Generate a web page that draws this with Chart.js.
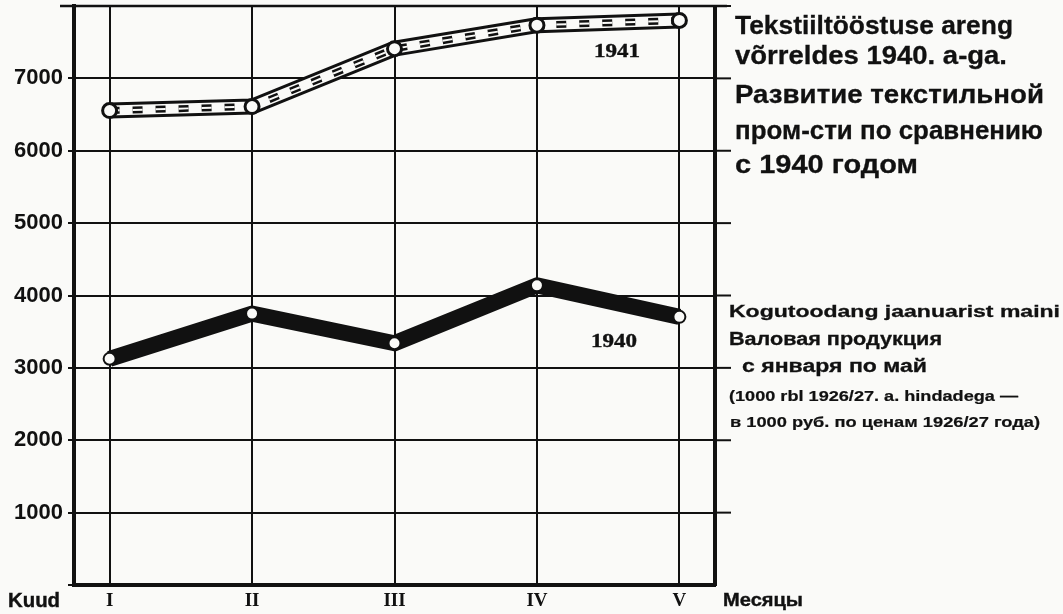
<!DOCTYPE html>
<html>
<head>
<meta charset="utf-8">
<script src="https://cdn.jsdelivr.net/npm/chart.js@4.4.1/dist/chart.umd.min.js"></script>
<style>
  html, body { margin: 0; padding: 0; background: #fafaf8; }
  canvas { display: block; }
</style>
</head>
<body>
<canvas id="c" width="1063" height="614"></canvas>
<script>
// ---- data ----
const months = ['I', 'II', 'III', 'IV', 'V'];
const values1941 = [6555, 6610, 7410, 7735, 7800];
const values1940 = [3125, 3750, 3340, 4140, 3705];
const yTickValues = [1000, 2000, 3000, 4000, 5000, 6000, 7000];
const yTickLabels = ['1000', '2000', '3000', '4000', '5000', '6000', '7000'];
const seriesLabels = ['1941', '1940'];

const pts = vals => vals.map((v, i) => ({ x: i + 1, y: v }));

const NARROW = '"Liberation Sans Narrow", "Arial Narrow", "Liberation Sans", sans-serif';
const SERIF = '"Liberation Serif", "DejaVu Serif", serif';
const BG = '#fafaf8';

// draws a text line fitted to a target width
function fitText(ctx, text, x, baseline, size, family, targetW, stroke) {
  ctx.save();
  ctx.font = 'bold ' + size + 'px ' + family;
  ctx.textBaseline = 'alphabetic';
  ctx.textAlign = 'left';
  const w = ctx.measureText(text).width;
  ctx.translate(x, baseline);
  ctx.scale(targetW / w, 1);
  ctx.fillStyle = '#111';
  ctx.fillText(text, 0, 0);
  if (stroke) {
    ctx.lineWidth = stroke;
    ctx.strokeStyle = '#111';
    ctx.strokeText(text, 0, 0);
  }
  ctx.restore();
}

const decor = {
  id: 'decor',
  beforeDatasetsDraw(chart) {
    const { ctx, chartArea, scales } = chart;
    const ys = scales.y;
    ctx.save();
    ctx.strokeStyle = '#111';
    ctx.lineWidth = 2;
    [1000, 2000, 3000, 4000, 5000, 6000, 7000, 8000].forEach(v => {
      const py = ys.getPixelForValue(v);
      ctx.beginPath();
      ctx.moveTo(chartArea.right, py);
      ctx.lineTo(chartArea.right + 16, py);
      ctx.stroke();
    });
    const pTop = ys.getPixelForValue(8000);
    ctx.lineWidth = 2.5;
    ctx.beginPath();
    ctx.moveTo(chartArea.left - 14, pTop);
    ctx.lineTo(chartArea.right + 12, pTop);
    ctx.stroke();
    ctx.lineWidth = 4;
    ctx.beginPath();
    ctx.moveTo(chartArea.right, pTop - 1);
    ctx.lineTo(chartArea.right, chartArea.bottom + 1);
    ctx.stroke();
    ctx.restore();
  },
  afterDraw(chart) {
    const { ctx, scales } = chart;
    const xs = scales.x, ys = scales.y;
    ctx.save();
    fitText(ctx, seriesLabels[0], xs.getPixelForValue(4.4), ys.getPixelForValue(7290), 19, SERIF, 46, 0.4);
    fitText(ctx, seriesLabels[1], xs.getPixelForValue(4.38), ys.getPixelForValue(3290), 19, SERIF, 46, 0.4);
    fitText(ctx, 'Kuud', 8, 607, 20, NARROW, 52, 0.4);
    fitText(ctx, 'Месяцы', 723, 606, 19, NARROW, 80, 0.4);
    fitText(ctx, 'Tekstiiltööstuse areng', 735, 34, 25, NARROW, 278, 0.3);
    fitText(ctx, 'võrreldes 1940. a-ga.', 735, 64, 25, NARROW, 272, 0.3);
    fitText(ctx, 'Развитие текстильной', 735, 103, 26, NARROW, 309, 0.3);
    fitText(ctx, 'пром-сти по сравнению', 735, 139, 26, NARROW, 308, 0.3);
    fitText(ctx, 'с 1940 годом', 735, 173, 26, NARROW, 183, 0.3);
    fitText(ctx, 'Kogutoodang jaanuarist maini', 729, 317, 17, NARROW, 331, 0.3);
    fitText(ctx, 'Валовая продукция', 729, 345, 18, NARROW, 213, 0.3);
    fitText(ctx, 'с января по май', 742, 372, 18, NARROW, 185, 0.3);
    fitText(ctx, '(1000 rbl 1926/27. a. hindadega —', 729, 401, 14, NARROW, 289, 0.2);
    fitText(ctx, 'в 1000 руб. по ценам 1926/27 года)', 730, 427, 14, NARROW, 310, 0.2);
    ctx.restore();
  }
};

const dashPat = [10, 13];
new Chart(document.getElementById('c'), {
  type: 'line',
  data: {
    datasets: [
      { label: '1941', data: pts(values1941), borderColor: '#111', borderWidth: 16, pointRadius: 0, order: 6, borderJoinStyle: 'round' },
      { label: '1941w', data: pts(values1941), borderColor: BG, borderWidth: 10, pointRadius: 0, order: 5, borderJoinStyle: 'round' },
      { label: '1941d', data: pts(values1941), borderColor: '#111', borderWidth: 7, borderDash: dashPat, pointRadius: 0, order: 4 },
      { label: '1941m', data: pts(values1941), borderColor: BG, borderWidth: 2, borderDash: dashPat, order: 3,
        pointRadius: 7, pointBackgroundColor: BG, pointBorderColor: '#111', pointBorderWidth: 3 },
      { label: '1940', data: pts(values1940), borderColor: '#111', borderWidth: 16, order: 2, borderJoinStyle: 'round',
        pointRadius: 6, pointBackgroundColor: BG, pointBorderColor: '#111', pointBorderWidth: 2 }
    ]
  },
  options: {
    responsive: false,
    animation: false,
    devicePixelRatio: 1,
    layout: { autoPadding: false, padding: { top: 6, right: 348, left: 0, bottom: 0 } },
    plugins: { legend: { display: false }, tooltip: { enabled: false } },
    elements: { line: { tension: 0 } },
    scales: {
      x: {
        type: 'linear',
        min: 0.75,
        max: 5.25,
        afterBuildTicks: s => { s.ticks = months.map((m, i) => ({ value: i + 1 })); },
        afterFit: s => { s.height = 29; s.paddingLeft = 0; s.paddingRight = 0; },
        ticks: {
          callback: (v) => months[Math.round(v) - 1] || '',
          color: '#111',
          font: { family: SERIF, weight: 'bold', size: 19 },
          padding: 5,
          maxRotation: 0,
          autoSkip: false
        },
        grid: { color: '#111', lineWidth: 2, drawTicks: false },
        border: { color: '#111', width: 4 }
      },
      y: {
        min: 0,
        max: 8000,
        afterBuildTicks: s => { s.ticks = [0].concat(yTickValues, [8000]).map(v => ({ value: v })); },
        afterFit: s => { s.width = 74; s.paddingTop = 0; s.paddingBottom = 0; },
        ticks: {
          callback: (v) => { const i = yTickValues.indexOf(v); return i >= 0 ? yTickLabels[i] : ''; },
          color: '#111',
          font: { family: NARROW, weight: 'bold', size: 22 },
          padding: 5
        },
        grid: { color: '#111', lineWidth: 2, tickLength: 6 },
        border: { color: '#111', width: 4 }
      }
    }
  },
  plugins: [decor]
});
</script>
</body>
</html>
